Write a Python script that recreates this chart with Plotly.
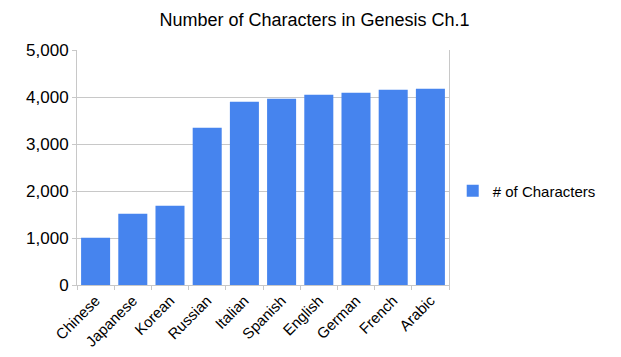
import plotly.graph_objects as go

languages = ["Chinese", "Japanese", "Korean", "Russian", "Italian",
             "Spanish", "English", "German", "French", "Arabic"]
characters = [1005, 1518, 1688, 3348, 3901, 3965, 4050, 4092, 4156, 4177]
series_name = "# of Characters"
y_ticks = [0, 1000, 2000, 3000, 4000, 5000]

fig = go.Figure()
fig.add_trace(go.Bar(
    x=languages, y=characters, name=series_name,
    marker=dict(color="#4684EE", line=dict(width=0)),
    showlegend=True,
))

# page body has an 8px default margin, so the figure is sized 8px smaller
fig.update_layout(
    width=613, height=349,
    margin=dict(l=69, r=172, t=42, b=72, autoexpand=False),
    paper_bgcolor="white", plot_bgcolor="white",
    font=dict(family="Liberation Sans, Arial, sans-serif", color="#000000"),
    title=dict(text="Number of Characters in Genesis Ch.1", x=0.5, xanchor="center",
               y=0.966, yanchor="middle", font=dict(size=18, color="#000000")),
    bargap=0.22,
    showlegend=True,
    legend=dict(x=1.01, y=0.40, xanchor="left", yanchor="middle",
                font=dict(size=15, color="#000000"), bgcolor="rgba(0,0,0,0)"),
)
fig.update_xaxes(
    automargin=False,
    showline=True, linecolor="#C8C8C8", linewidth=1,
    ticks="outside", tickson="boundaries", ticklen=4, tickcolor="#C8C8C8",
    tickangle=-45, tickfont=dict(size=15, color="#000000"),
    showgrid=False, mirror=False,
)
fig.update_yaxes(
    automargin=False,
    range=[0, 5000], tickvals=y_ticks, tickformat=",d",
    showline=True, linecolor="#C8C8C8", linewidth=1, mirror=True,
    ticks="outside", ticklen=4, tickcolor="#C8C8C8",
    showgrid=True, gridcolor="#C8C8C8", gridwidth=1,
    tickfont=dict(size=17, color="#000000"), zeroline=False,
)

fig.write_html("out.html")
